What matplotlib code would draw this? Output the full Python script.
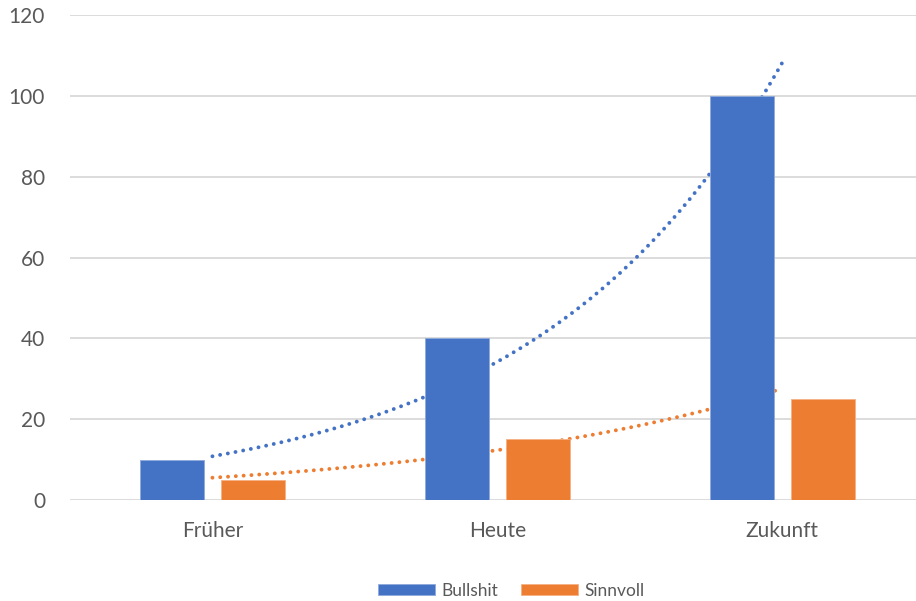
import numpy as np
import matplotlib
matplotlib.use('Agg')
import matplotlib.pyplot as plt

plt.rcParams['font.family'] = ['Lato', 'DejaVu Sans']

# chart values
categories = ['Früher', 'Heute', 'Zukunft']
bullshit = [10, 40, 100]
sinnvoll = [5, 15, 25]
yticks = [0, 20, 40, 60, 80, 100, 120]

blue = '#4472C4'
orange = '#ED7D31'
grey = '#595959'

fig = plt.figure(figsize=(9.16, 6.01), dpi=100)
ax = fig.add_axes([70/916, 101/601, 846/916, 485/601])

x = np.arange(len(categories))
w = 0.225
off = 0.142

ax.bar(x - off, bullshit, w, color=blue, edgecolor='#8FAADC', linewidth=0.6, zorder=3, label='Bullshit')
ax.bar(x + off, sinnvoll, w, color=orange, edgecolor='#F4B183', linewidth=0.6, zorder=3, label='Sinnvoll')

# exponential trendlines (Excel style), fitted on the values
xs = np.linspace(0, 2, 200)
for vals, col in ((bullshit, blue), (sinnvoll, orange)):
    b, a = np.polyfit(x + 1, np.log(vals), 1)
    ax.plot(xs, np.exp(a + b * (xs + 1)), color=col, lw=2.8,
            linestyle=(0, (0.01, 2.0)), dash_capstyle='round', zorder=2)

ax.set_xlim(-0.5, 2.47)
ax.set_ylim(0, 120)
ax.set_yticks(yticks)
ax.set_xticks(x)
ax.set_xticklabels(categories)
ax.yaxis.grid(True, color='#D9D9D9', lw=1.3, zorder=0)
ax.set_axisbelow(True)
for s in ax.spines.values():
    s.set_visible(False)
ax.tick_params(length=0, labelsize=15, colors=grey, pad=18)
ax.tick_params(axis='x', pad=15)

fig.legend(loc='center', bbox_to_anchor=(511/916, 1 - 591/601), ncol=2, frameon=False,
           fontsize=12.5, labelcolor=grey, handlelength=3.3, handleheight=0.6,
           columnspacing=1.3, handletextpad=0.35)

plt.savefig('out.png', dpi=100)
